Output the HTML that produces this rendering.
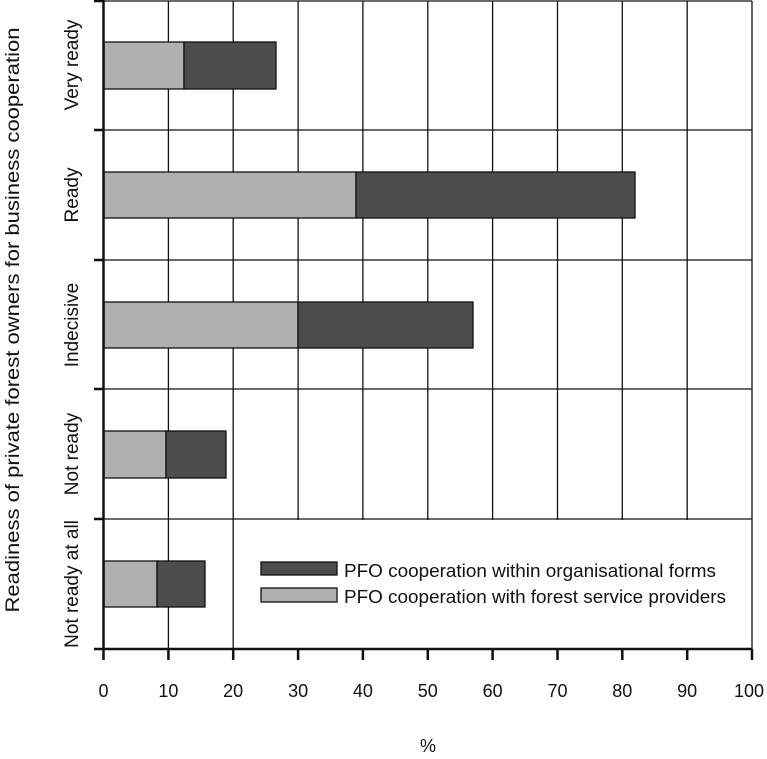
<!DOCTYPE html>
<html><head><style>body{margin:0;background:#fff}</style></head><body>
<svg width="767" height="754" xmlns="http://www.w3.org/2000/svg" font-family="Liberation Sans, sans-serif" fill="#111">
<g stroke="#111" stroke-width="1.3" fill="none">
<line x1="103.5" y1="1" x2="752" y2="1"/>
<line x1="752" y1="1" x2="752" y2="649"/>
<line x1="103.5" y1="130" x2="752" y2="130"/>
<line x1="103.5" y1="260" x2="752" y2="260"/>
<line x1="103.5" y1="389" x2="752" y2="389"/>
<line x1="103.5" y1="519" x2="752" y2="519"/>
<line x1="168.4" y1="1" x2="168.4" y2="649"/>
<line x1="233.2" y1="1" x2="233.2" y2="649"/>
<line x1="298.1" y1="1" x2="298.1" y2="649"/>
<line x1="362.9" y1="1" x2="362.9" y2="649"/>
<line x1="427.8" y1="1" x2="427.8" y2="649"/>
<line x1="492.6" y1="1" x2="492.6" y2="649"/>
<line x1="557.5" y1="1" x2="557.5" y2="649"/>
<line x1="622.3" y1="1" x2="622.3" y2="649"/>
<line x1="687.2" y1="1" x2="687.2" y2="649"/>
</g>
<rect x="234" y="520" width="517" height="128" fill="#fff"/>
<g stroke="#111" stroke-width="1.3">
<rect x="104" y="42" width="80" height="47" fill="#b0b0b0"/><rect x="184" y="42" width="92" height="47" fill="#4d4d4d"/>
<rect x="104" y="172" width="252" height="46" fill="#b0b0b0"/><rect x="356" y="172" width="279" height="46" fill="#4d4d4d"/>
<rect x="104" y="302" width="194" height="46" fill="#b0b0b0"/><rect x="298" y="302" width="175" height="46" fill="#4d4d4d"/>
<rect x="104" y="431" width="62" height="47" fill="#b0b0b0"/><rect x="166" y="431" width="60" height="47" fill="#4d4d4d"/>
<rect x="104" y="561" width="53" height="46" fill="#b0b0b0"/><rect x="157" y="561" width="48" height="46" fill="#4d4d4d"/>
<rect x="261" y="562" width="76" height="13" fill="#4d4d4d"/>
<rect x="261" y="588" width="76" height="14" fill="#b0b0b0"/>
</g>
<g stroke="#111" stroke-width="2.5">
<line x1="103.5" y1="0" x2="103.5" y2="649"/>
<line x1="103.5" y1="649" x2="752" y2="649"/>
<line x1="94" y1="1" x2="103.5" y2="1"/><line x1="94" y1="130" x2="103.5" y2="130"/><line x1="94" y1="260" x2="103.5" y2="260"/><line x1="94" y1="389" x2="103.5" y2="389"/><line x1="94" y1="519" x2="103.5" y2="519"/><line x1="94" y1="649" x2="103.5" y2="649"/>
<line x1="103.5" y1="649" x2="103.5" y2="660"/><line x1="168.4" y1="649" x2="168.4" y2="660"/><line x1="233.2" y1="649" x2="233.2" y2="660"/><line x1="298.1" y1="649" x2="298.1" y2="660"/><line x1="362.9" y1="649" x2="362.9" y2="660"/><line x1="427.8" y1="649" x2="427.8" y2="660"/><line x1="492.6" y1="649" x2="492.6" y2="660"/><line x1="557.5" y1="649" x2="557.5" y2="660"/><line x1="622.3" y1="649" x2="622.3" y2="660"/><line x1="687.2" y1="649" x2="687.2" y2="660"/><line x1="752" y1="649" x2="752" y2="660"/>
</g>
<g font-size="18" text-anchor="middle">
<text x="103.5" y="697">0</text><text x="168.4" y="697">10</text><text x="233.2" y="697">20</text><text x="298.1" y="697">30</text><text x="362.9" y="697">40</text><text x="427.8" y="697">50</text><text x="492.6" y="697">60</text><text x="557.5" y="697">70</text><text x="622.3" y="697">80</text><text x="687.2" y="697">90</text><text x="749" y="697">100</text>
<text x="428" y="752">%</text>
</g>
<g font-size="19" text-anchor="middle">
<text transform="translate(78,65) rotate(-90)">Very ready</text>
<text transform="translate(78,195) rotate(-90)">Ready</text>
<text transform="translate(78,325) rotate(-90)">Indecisive</text>
<text transform="translate(78,454) rotate(-90)">Not ready</text>
<text transform="translate(78,584) rotate(-90)">Not ready at all</text>
<text transform="translate(19,320) rotate(-90)" textLength="585" lengthAdjust="spacingAndGlyphs">Readiness of private forest owners for business cooperation</text>
</g>
<g font-size="18">
<text x="344" y="577" textLength="372" lengthAdjust="spacingAndGlyphs">PFO cooperation within organisational forms</text>
<text x="344" y="603" textLength="382" lengthAdjust="spacingAndGlyphs">PFO cooperation with forest service providers</text>
</g>
</svg>
</body></html>
